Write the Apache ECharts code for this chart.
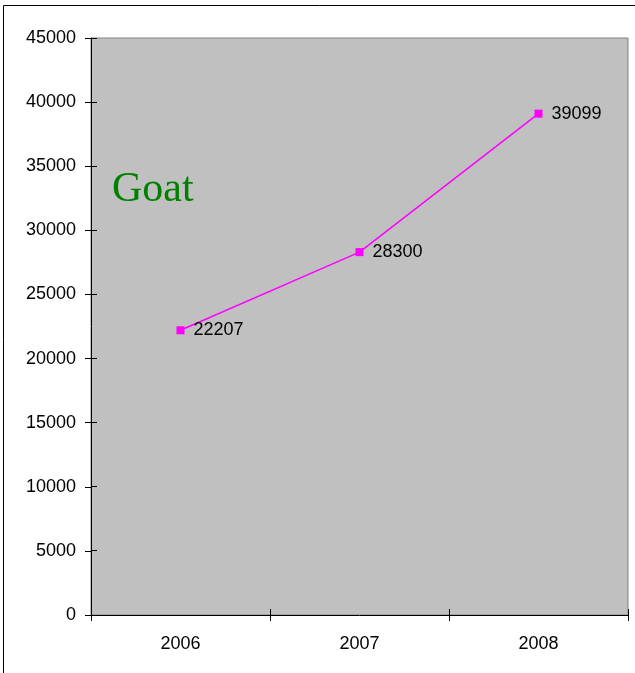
<!DOCTYPE html>
<html>
<head>
<meta charset="utf-8">
<script src="https://cdn.jsdelivr.net/npm/echarts@6/dist/echarts.min.js"></script>
<style>html,body{margin:0;padding:0;background:#fff}#c{width:635px;height:673px}</style>
</head>
<body>
<div id="c"></div>
<script>
var categories = ['2006', '2007', '2008'];
var goatValues = [22207, 28300, 39099];
var seriesName = 'Goat';
var yMin = 0, yMax = 45000, yInterval = 5000;
var yTickValues = [0, 5000, 10000, 15000, 20000, 25000, 30000, 35000, 40000, 45000];

var chart = echarts.init(document.getElementById('c'), null, {renderer: 'canvas'});
var font = 'Liberation Sans, Arial, sans-serif';
function crisp(v) { return Math.round(v - 0.5) + 0.5; }
chart.setOption({
  animation: false,
  backgroundColor: '#ffffff',
  grid: {left: 91, top: 38, right: 7, bottom: 58, show: true, backgroundColor: '#c0c0c0', borderColor: '#808080', borderWidth: 1},
  graphic: [
    {type: 'rect', shape: {x: 3.5, y: 5.5, width: 700, height: 700}, style: {fill: 'none', stroke: '#000', lineWidth: 1}, silent: true, z: -1},
    {type: 'text', left: 112, top: 169, style: {text: seriesName, font: '42px "Liberation Serif", "Times New Roman", serif', fill: '#008000'}, z: 100}
  ],
  xAxis: {type: 'category', data: categories, boundaryGap: true,
     axisLine: {lineStyle: {color: '#000', width: 1}},
     axisTick: {show: true, alignWithLabel: false, length: 6, lineStyle: {color: '#000'}},
     axisLabel: {color: '#000', fontSize: 18, fontFamily: font, margin: 20},
     splitLine: {show: false}},
  yAxis: {type: 'value', min: yMin, max: yMax, interval: yInterval,
     axisLine: {show: true, lineStyle: {color: '#000', width: 1}},
     axisTick: {show: true, length: 6, lineStyle: {color: '#000'}},
     axisLabel: {color: '#000', fontSize: 18, fontFamily: font, margin: 15, formatter: function (v) { return String(v); }},
     splitLine: {show: false}},
  series: [
    {
      name: seriesName, type: 'line', data: goatValues, z: 3,
      symbol: 'rect', symbolSize: 8,
      lineStyle: {color: '#ff00ff', width: 1.5},
      itemStyle: {color: '#ff00ff'},
      label: {show: true, position: 'right', distance: 9, color: '#000', fontSize: 18, fontFamily: font}
    },
    {
      type: 'custom', silent: true, clip: false, z: 4,
      data: yTickValues.map(function (v) { return [categories[0], v]; }),
      renderItem: function (params, api) {
        var cs = params.coordSys;
        var y = crisp(api.coord([api.value(0), api.value(1)])[1]);
        return {type: 'line', shape: {x1: cs.x, y1: y, x2: cs.x + 6, y2: y}, style: {stroke: '#000', lineWidth: 1}};
      }
    },
    {
      type: 'custom', silent: true, clip: false, z: 4,
      data: categories.map(function (c) { return [c, yMin]; }),
      renderItem: function (params, api) {
        var cs = params.coordSys;
        var p = api.coord([api.value(0), yMin]);
        var half = api.size([1, 0])[0] / 2;
        var xl = crisp(p[0] - half), xr = crisp(p[0] + half);
        var yb = cs.y + cs.height;
        return {type: 'group', children: [
          {type: 'line', shape: {x1: xl, y1: yb, x2: xl, y2: yb - 6}, style: {stroke: '#000', lineWidth: 1}},
          {type: 'line', shape: {x1: xr, y1: yb, x2: xr, y2: yb - 6}, style: {stroke: '#000', lineWidth: 1}}
        ]};
      }
    }
  ]
});
</script>
</body>
</html>
